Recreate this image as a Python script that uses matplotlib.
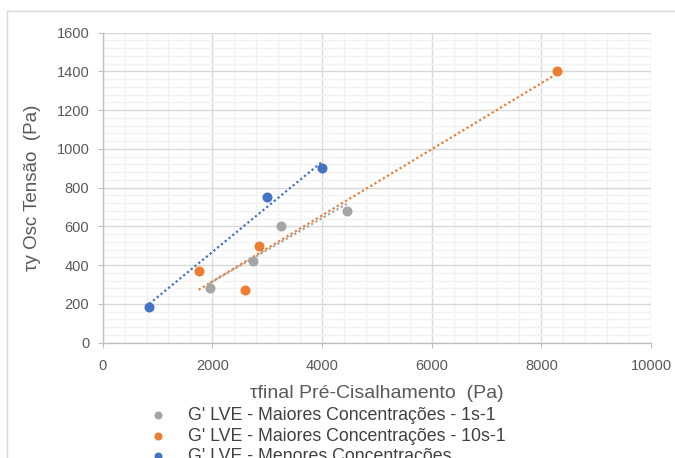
import numpy as np
import matplotlib
matplotlib.use("Agg")
import matplotlib.pyplot as plt
from matplotlib.lines import Line2D
from matplotlib.ticker import MultipleLocator

plt.rcParams['font.family'] = ['Liberation Sans', 'DejaVu Sans']

# Data
gray_x = [1950, 2750, 3250, 4450]
gray_y = [280, 420, 600, 680]
orange_x = [1750, 2600, 2850, 8280]
orange_y = [370, 270, 500, 1400]
blue_x = [850, 3000, 4000]
blue_y = [185, 750, 900]

labels = ["G' LVE - Maiores Concentrações - 1s-1",
          "G' LVE - Maiores Concentrações - 10s-1",
          "G' LVE - Menores Concentrações"]
colors = ["#A5A5A5", "#ED7D31", "#4472C4"]
x_label = "τfinal Pré-Cisalhamento  (Pa)"
y_label = "τy Osc Tensão  (Pa)"

W, H = 675, 458
fig = plt.figure(figsize=(W / 100, H / 100), dpi=100)
ax = fig.add_axes([102.7 / W, 1 - 342.7 / H, (651 - 102.7) / W, (342.7 - 32.7) / H])

series = [(gray_x, gray_y), (orange_x, orange_y), (blue_x, blue_y)]
for (xs, ys), c in zip(series, colors):
    xs_a = np.array(xs, float)
    ys_a = np.array(ys, float)
    m, b = np.polyfit(xs_a, ys_a, 1)
    xx = np.array([xs_a.min(), xs_a.max()])
    ax.plot(xx, m * xx + b, color=c, lw=1.6, linestyle=(0, (1, 1.2)), zorder=3,
            solid_capstyle='butt')
for (xs, ys), c, lab in zip(series, colors, labels):
    ax.scatter(xs, ys, s=52, color=c, zorder=4, label=lab, linewidths=0)

ax.set_xlim(0, 10000)
ax.set_ylim(0, 1600)
ax.xaxis.set_major_locator(MultipleLocator(2000))
ax.xaxis.set_minor_locator(MultipleLocator(400))
ax.yaxis.set_major_locator(MultipleLocator(200))
ax.yaxis.set_minor_locator(MultipleLocator(40))
ax.grid(which='major', color='#d9d9d9', lw=1.0, zorder=1)
ax.grid(which='minor', color='#f2f2f2', lw=1.0, zorder=0)
ax.set_axisbelow(True)

for s in ['top', 'right']:
    ax.spines[s].set_visible(False)
for s in ['left', 'bottom']:
    ax.spines[s].set_color('#bfbfbf')
    ax.spines[s].set_linewidth(1.0)

ax.tick_params(which='major', length=3.6, width=0.8, color='#bfbfbf',
               labelsize=10.5, labelcolor='#595959')
ax.tick_params(axis='y', which='major', pad=6)
ax.tick_params(axis='x', which='major', pad=8)
ax.tick_params(which='minor', length=0)

ax.set_xlabel(x_label, fontsize=14, color='#595959')
ax.set_ylabel(y_label, fontsize=13.5, color='#595959')
ax.xaxis.set_label_coords(0.5, -0.136)
ax.yaxis.set_label_coords(-0.112, 0.5)

leg = ax.legend(loc='upper left', bbox_to_anchor=(133 / W, 1 - 391 / H),
                bbox_transform=fig.transFigure, frameon=False, fontsize=12.8,
                handlelength=1.0, handletextpad=1.2, labelspacing=0.2,
                borderpad=0.4, markerscale=0.8)
for t in leg.get_texts():
    t.set_color('#404040')

# outer chart frame
fig.add_artist(Line2D([7 / W, 7 / W], [0, 1 - 11 / H], transform=fig.transFigure,
                      color='#d9d9d9', lw=1.0))
fig.add_artist(Line2D([7 / W, 1], [1 - 11 / H, 1 - 11 / H], transform=fig.transFigure,
                      color='#d9d9d9', lw=1.0))

fig.savefig("out.png", dpi=100)
